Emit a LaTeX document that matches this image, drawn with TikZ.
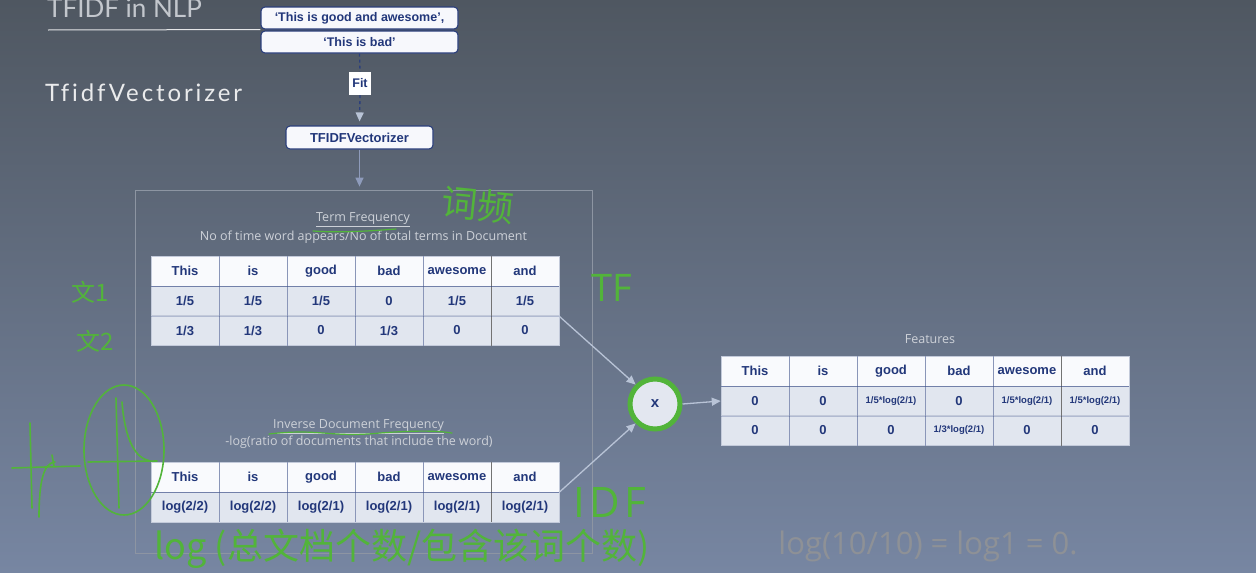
\documentclass[tikz,border=0pt]{standalone}
\usepackage{fontspec}
\setmainfont{Liberation Sans}
\newfontfamily\labelfont{Open Sans}
\newfontfamily\titlefont{Lato}
\newfontfamily\subtitlefont[LetterSpace=12,Ligatures=NoCommon]{Lato}
\newfontfamily\handfont{Noto Sans CJK SC}
\usetikzlibrary{arrows.meta,positioning}
\definecolor{bgtop}{HTML}{4F5761}
\definecolor{bgbot}{HTML}{7786A2}
\definecolor{navy}{HTML}{22377A}
\definecolor{boxline}{HTML}{2B3F7C}
\definecolor{boxfill}{HTML}{F7F8FC}
\definecolor{hdrfill}{HTML}{F9FAFD}
\definecolor{rowfill}{HTML}{E1E6EF}
\definecolor{cellline}{HTML}{C3CADA}
\definecolor{labelgray}{HTML}{CDD1D8}
\definecolor{framegray}{HTML}{8D95A2}
\definecolor{inkgreen}{HTML}{52B43A}
\definecolor{inkfaint}{HTML}{8E9196}
\definecolor{arrowlight}{HTML}{B8C3D6}
\definecolor{ringfill}{HTML}{E3E7F0}
\newcommand{\smallval}[1]{{\fontsize{9.5}{11}\selectfont #1}}

\begin{document}
\begin{tikzpicture}[x=1pt,y=-1pt,font=\fontsize{12.5}{14}\selectfont\bfseries,
box/.style={draw=boxline,fill=boxfill,rounded corners=4pt,line width=1.1pt,text=navy,inner sep=0pt},
hcell/.style={draw=cellline,line width=.5pt,fill=hdrfill,minimum width=68pt,minimum height=30pt,inner sep=0pt,text=navy,font=\fontsize{13}{15}\selectfont\bfseries},
vcell/.style={hcell,fill=rowfill},
colsep/.style={draw=navy,opacity=.35,line width=.8pt},
andsep/.style={draw=black!55,line width=.9pt},
hdrline/.style={draw=navy,opacity=.5,line width=1.3pt},
rowline/.style={draw=navy,opacity=.25,line width=1pt},
lbl/.style={font=\labelfont\fontsize{12.5}{14}\selectfont,text=labelgray,inner sep=1pt},
flow/.style={draw=arrowlight,line width=1.3pt,-{Triangle[length=9pt,width=8pt]}},
dashline/.style={draw=boxline,line width=1.3pt,dashed},
ink/.style={draw=inkgreen,line width=1.6pt,line cap=round,line join=round},
hand/.style={text=inkgreen,inner sep=0pt}]
\clip (0,0) rectangle (1256,573);
\shade[top color=bgtop,bottom color=bgbot] (0,0) rectangle (1256,573);

\node[anchor=base west,font=\titlefont\fontsize{26}{30}\selectfont,text=black!5!labelgray,inner sep=0pt] (title) at (47,17) {TFIDF in NLP};
\node[anchor=base west,font=\subtitlefont\fontsize{24}{28}\selectfont,text=white!88!bgtop,inner sep=0pt] (subtitle) at (45,101) {TfidfVectorizer};

\node[box,minimum width=197pt,minimum height=22pt] (inp1) at (359.5,18) {‘This is good and awesome’,};
\node[box,minimum width=197pt,minimum height=22pt] (inp2) at (359.5,42) {‘This is bad’};
\node[fill=white,text=navy,minimum width=22pt,minimum height=23pt,inner sep=0pt] (fit) at (360,83.5) {Fit};
\node[box,minimum width=147pt,minimum height=23pt,font=\fontsize{13}{15}\selectfont\bfseries] (vec) at (359.5,137.5) {TFIDFVectorizer};
\node[draw=framegray,line width=.8pt,minimum width=457pt,minimum height=363pt] (panel) at (363.5,371.5) {};
\draw[white!85!bgtop,line width=1pt] (48,30) -- (inp1.south west);
\draw[dashline] (inp2.south) -- (fit.north);
\draw[dashline,-{Triangle[length=9pt,width=8pt,fill=arrowlight,color=arrowlight]},shorten >=4pt] (fit.south) -- (vec.north);
\draw[flow,draw=arrowlight!70!boxline,shorten >=3pt] (vec.south) -- (vec.south |- panel.north);

\node[lbl] (tfname) at (363,220) {\underline{Term Frequency}};
\node[lbl] (tfdesc) at (363.5,237) {No of time word appears/No of total terms in Document};
\node[lbl] (idfname) at (358.5,427) {\underline{Inverse Document Frequency}};
\node[lbl] (idfdesc) at (359,442) {-log(ratio of documents that include the word)};
\node[lbl] (featname) at (930,339) {Features};

\foreach \w [count=\i] in {This,is,good,bad,awesome,and}{
  \node[hcell] (tfh\i) at ({117+68*\i},271) {\w};
  \node[hcell] (idfh\i) at ({117+68*\i},477) {\w};
  \node[hcell] (fth\i) at ({687+68*\i},371) {\w};
}
\foreach \v [count=\i] in {1/5,1/5,1/5,0,1/5,1/5}
  \node[vcell] (tfa\i) at ({117+68*\i},301) {\v};
\foreach \v [count=\i] in {1/3,1/3,0,1/3,0,0}
  \node[vcell] (tfb\i) at ({117+68*\i},330.5) {\v};
\foreach \v [count=\i] in {log(2/2),log(2/2),log(2/1),log(2/1),log(2/1),log(2/1)}
  \node[vcell] (idfa\i) at ({117+68*\i},507) {\v};
\foreach \v [count=\i] in {0,0,\smallval{1/5*log(2/1)},0,\smallval{1/5*log(2/1)},\smallval{1/5*log(2/1)}}
  \node[vcell] (fta\i) at ({687+68*\i},401) {\v};
\foreach \v [count=\i] in {0,0,0,\smallval{1/3*log(2/1)},0,0}
  \node[vcell] (ftb\i) at ({687+68*\i},430.5) {\v};
\foreach \h/\l in {tfh/tfb,idfh/idfa,fth/ftb}{
  \foreach \i in {1,...,4} \draw[colsep] (\h\i.north east) -- (\l\i.south east);
  \draw[andsep] (\h5.north east) -- (\l5.south east);
  \draw[hdrline] (\h1.south west) -- (\h6.south east);
}
\draw[rowline] (tfa1.south west) -- (tfa6.south east);
\draw[rowline] (fta1.south west) -- (fta6.south east);

\node[circle,fill=ringfill,draw=inkgreen,line width=5pt,minimum size=50pt,inner sep=0pt,text=navy,font=\fontsize{15}{16}\selectfont\bfseries] (mult) at (655,404) {x};
\draw[flow] (tfa6.south east) -- (mult.north west);
\draw[flow] (idfh6.south east) -- (mult.south west);
\draw[flow] (mult.east) -- (fta1.west);

\node[hand,font=\handfont\fontsize{36}{40}\selectfont,rotate=-6] (cipin) at (478,205) {词频};
\node[hand,font=\labelfont\fontsize{38}{40}\selectfont] (tfmark) at (612,288) {TF};
\node[hand,font=\handfont\fontsize{24}{26}\selectfont] (wen1) at (90,292) {文1};
\node[hand,font=\handfont\fontsize{24}{26}\selectfont] (wen2) at (95,341) {文2};
\node[hand,font=\labelfont\fontsize{42}{44}\selectfont\addfontfeature{LetterSpace=10}] (idfmark) at (610,503) {IDF};
\node[hand,font=\handfont\fontsize{36}{40}\selectfont] (idfformula) at (402,549) {log (总文档个数/包含该词个数)};
\node[text=inkfaint,font=\labelfont\fontsize{31}{34}\selectfont,inner sep=0pt] (faintcalc) at (928,546) {log(10/10) = log1 = 0.};

\draw[ink,line width=1.2pt] (313,231) .. controls (340,233) and (370,231) .. (396,229);
\draw[ink,line width=1.2pt] (269,434) .. controls (320,428) and (330,438) .. (380,433) .. controls (420,430) and (440,431) .. (452,433);
\draw[ink] (12,468) -- (80,466);
\draw[ink] (30,423) -- (32,508);
\draw[ink] (39,517) .. controls (39,480) and (44,463) .. (55,462);
\draw[ink] (52,455) -- (54,466);
\draw[ink] (124,450) ellipse [x radius=40, y radius=65];
\draw[ink] (88,462) -- (157,461);
\draw[ink] (116,398) -- (119,508);
\draw[ink] (122,402) .. controls (125,440) and (135,458) .. (150,461);
\end{tikzpicture}
\end{document}
